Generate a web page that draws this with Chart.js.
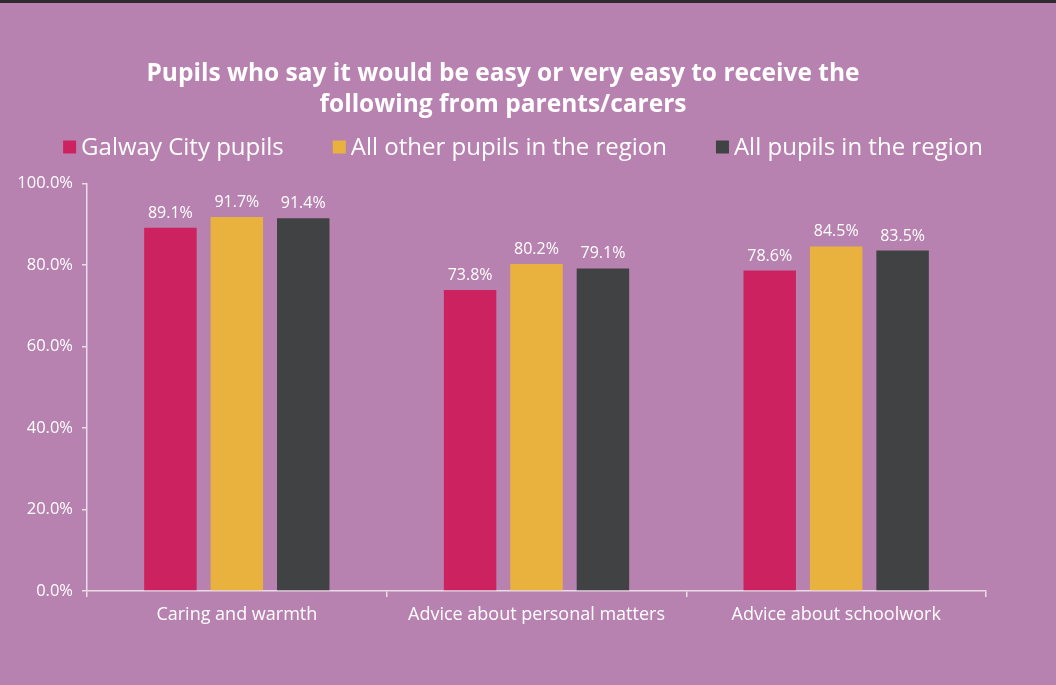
<!DOCTYPE html>
<html>
<head>
<meta charset="utf-8">
<script src="https://cdn.jsdelivr.net/npm/chart.js@4.4.0/dist/chart.umd.min.js"></script>
<style>
  body { margin: 0; background: #b882b0; }
  canvas { display: block; }
</style>
</head>
<body>
<canvas id="myChart" width="1056" height="685"></canvas>
<script>
const categories = ['Caring and warmth', 'Advice about personal matters', 'Advice about schoolwork'];
const seriesNames = ['Galway City pupils', 'All other pupils in the region', 'All pupils in the region'];
const galwayCity = [89.1, 73.8, 78.6];
const otherPupils = [91.7, 80.2, 84.5];
const allPupils = [91.4, 79.1, 83.5];
const yTicks = [0, 20, 40, 60, 80, 100];

const colours = ['#cc2360', '#e9b23e', '#404244'];
const axisColour = '#eadbe7';

const ctx = document.getElementById('myChart').getContext('2d');

// background + dark strip on top
const bgPlugin = {
  id: 'bg',
  beforeDraw(chart) {
    const c = chart.ctx;
    c.save();
    c.fillStyle = '#b882b0';
    c.fillRect(0, 0, chart.width, chart.height);
    c.fillStyle = '#2d2a30';
    c.fillRect(0, 0, chart.width, 3);
    c.restore();
  },
  afterLayout(chart) {
    // title sits a bit left of the plot centre
    const t = chart.titleBlock;
    const d = (t.left + t.right) / 2 - 503;
    t.left -= d;
    t.right -= d;
  }
};

// value labels above the bars
const valueLabels = {
  id: 'valueLabels',
  afterDatasetsDraw(chart) {
    const c = chart.ctx;
    c.save();
    c.font = '16px "Open Sans"';
    c.fillStyle = '#ffffff';
    c.textAlign = 'center';
    c.textBaseline = 'alphabetic';
    chart.data.datasets.forEach((ds, i) => {
      chart.getDatasetMeta(i).data.forEach((bar, j) => {
        c.fillText(ds.data[j].toFixed(1) + '%', bar.x, bar.y - 10);
      });
    });
    c.restore();
  }
};

// legend drawn by hand so the spacing matches
const legendRow = {
  id: 'legendRow',
  afterDraw(chart) {
    const c = chart.ctx;
    const box = 13, gap = 5, spacing = 49, y = 147;
    c.save();
    c.font = '24px "Open Sans"';
    c.textBaseline = 'middle';
    c.textAlign = 'left';
    const items = chart.data.datasets.map(ds => ({ text: ds.label, colour: ds.backgroundColor, w: c.measureText(ds.label).width }));
    let total = items.reduce((s, it) => s + box + gap + it.w, 0) + spacing * (items.length - 1);
    let x = 523 - total / 2;
    items.forEach(it => {
      c.fillStyle = it.colour;
      c.fillRect(x, y - box / 2, box, box);
      c.fillStyle = '#ffffff';
      c.fillText(it.text, x + box + gap, y + 1);
      x += box + gap + it.w + spacing;
    });
    c.restore();
  }
};

const data = {
  labels: categories,
  datasets: [
    { label: seriesNames[0], data: galwayCity, backgroundColor: colours[0] },
    { label: seriesNames[1], data: otherPupils, backgroundColor: colours[1] },
    { label: seriesNames[2], data: allPupils, backgroundColor: colours[2] }
  ]
};

const config = {
  type: 'bar',
  data,
  options: {
    responsive: false,
    animation: false,
    categoryPercentage: 0.665,
    barPercentage: 0.79,
    layout: {
      padding: { top: 59, left: 0, right: 70, bottom: 54 }
    },
    plugins: {
      legend: { display: false },
      tooltip: { enabled: false },
      title: {
        display: true,
        text: ['Pupils who say it would be easy or very easy to receive the', 'following from parents/carers'],
        color: '#ffffff',
        font: { family: '"Open Sans", sans-serif', size: 24.5, weight: 'bold', lineHeight: 1.25 },
        padding: { top: 0, bottom: 63 }
      }
    },
    scales: {
      x: {
        grid: { display: true, drawOnChartArea: false, drawTicks: true, tickLength: 6, color: axisColour, lineWidth: 1.5 },
        border: { display: true, color: axisColour, width: 1.5 },
        ticks: { color: '#ffffff', padding: 7, font: { family: '"Open Sans"', size: 18 } },
        afterFit(s) { s.height = 40; }
      },
      y: {
        min: 0,
        max: 100,
        afterBuildTicks(s) { s.ticks = yTicks.map(v => ({ value: v })); },
        grid: { display: true, drawOnChartArea: false, drawTicks: true, tickLength: 5, color: axisColour, lineWidth: 1.5 },
        border: { display: true, color: axisColour, width: 1.5 },
        ticks: {
          color: '#ffffff',
          padding: 9,
          font: { family: '"Open Sans"', size: 16.5 },
          callback: v => v.toFixed(1) + '%'
        },
        afterFit(s) { s.width = 87; }
      }
    }
  },
  plugins: [bgPlugin, valueLabels, legendRow]
};

let myChart = new Chart(ctx, config);
</script>
</body>
</html>
